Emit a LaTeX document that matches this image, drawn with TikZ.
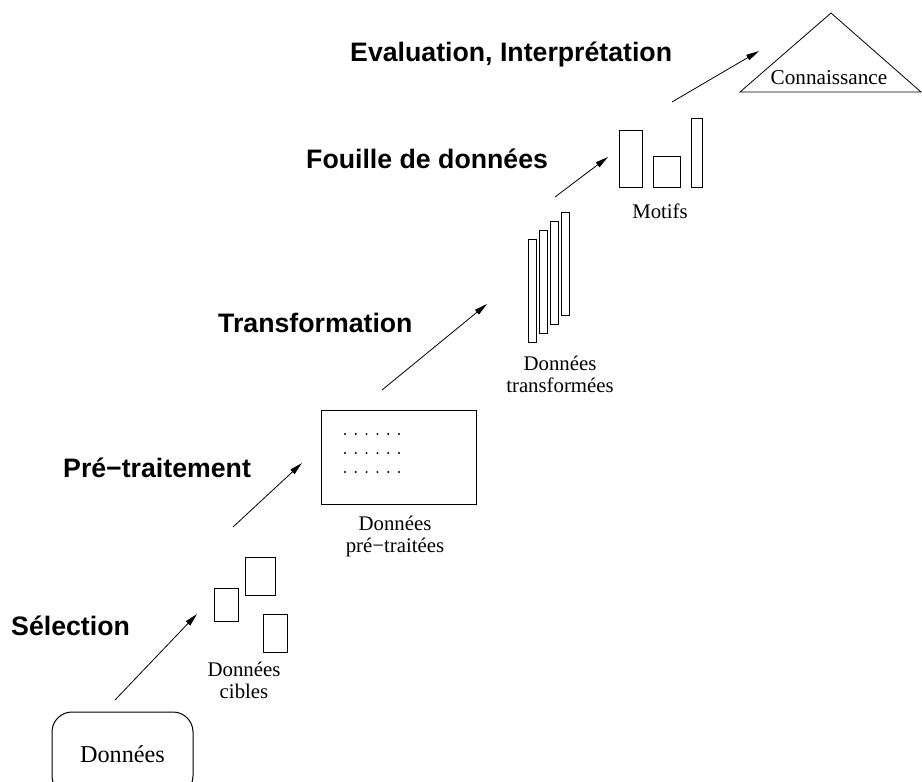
\documentclass[tikz,border=0pt]{standalone}
\usepackage{fontspec}
\setmainfont{Liberation Serif}
\newfontfamily\stagefont{Liberation Sans}
\usepackage{tikz}
\usetikzlibrary{arrows.meta,positioning}
\tikzstyle{arrow} = [line width=0.8pt,-{Triangle[length=13pt,width=6pt]}]
\tikzstyle{stage} = [font=\stagefont\bfseries\fontsize{26.7}{30}\selectfont, inner sep=0pt, text height=19pt, text depth=0pt, anchor=west]
\tikzstyle{datalabel} = [font=\fontsize{20.8}{22}\selectfont, align=center, inner sep=0pt]
\tikzstyle{sheet} = [rectangle, draw, line width=1pt, inner sep=0pt]

\begin{document}
\begin{tikzpicture}[x=1pt, y=-1pt]
\useasboundingbox (0,0) rectangle (922,782);

% Raw data
\node (donnees) [sheet, rounded corners=20pt, minimum width=141pt, minimum height=84pt, font=\fontsize{24.2}{26}\selectfont] at (122.5,754) {Données};

% Target data
\node (cible1) [sheet, minimum width=24pt, minimum height=33pt] at (226,604.5) {};
\node (cible2) [sheet, minimum width=30pt, minimum height=38pt] at (260,576) {};
\node (cible3) [sheet, minimum width=24pt, minimum height=38pt] at (275,633) {};
\node (ciblelabel) [datalabel] at (244,680) {Données\\cibles};

% Pre-processed data
\node (pretraitees) [sheet, minimum width=155pt, minimum height=94pt] at (398.5,457) {};
\foreach \row in {0,1,2}
  \foreach \col in {0,...,5}
    \fill (345+\col*10.8, 434+\row*19) circle (1.1pt);
\node (pretlabel) [datalabel] at (395,536) {Données\\pré−traitées};

% Transformed data
\foreach \i in {0,...,3}
  \node (bar\i) [sheet, minimum width=8pt, minimum height=103pt] at (532+\i*11.3, 290.5-\i*8.7) {};
\node (transflabel) [datalabel] at (560,374) {Données\\transformées};

% Patterns
\node (motif1) [sheet, minimum width=23pt, minimum height=57pt] at (630.5,158.5) {};
\node (motif2) [sheet, minimum width=27pt, minimum height=31pt] at (666.5,171.5) {};
\node (motif3) [sheet, minimum width=11pt, minimum height=69pt] at (696.5,152.5) {};
\node (motiflabel) [datalabel] at (660,211) {Motifs};

% Knowledge
\draw[line width=0.8pt] (740,92) -- (831,13) -- (921,92) -- cycle;
\node (connaissance) [font=\fontsize{21.2}{24}\selectfont] at (829,78) {Connaissance};

% Stages
\node (selection) [stage] at (11,626) {Sélection};
\node (pretraitement) [stage] at (63,468) {Pré−traitement};
\node (transformation) [stage] at (218,323) {Transformation};
\node (fouille) [stage] at (306,159) {Fouille de données};
\node (evaluation) [stage] at (350,52) {Evaluation, Interprétation};

% Arrows
\coordinate (sel-from) at (115,700);
\coordinate (sel-to) at (197,614);
\coordinate (pre-from) at (233,527);
\coordinate (pre-to) at (302,463);
\coordinate (tra-from) at (382,390);
\coordinate (tra-to) at (487,304);
\coordinate (fou-from) at (555,197);
\coordinate (fou-to) at (608,157);
\coordinate (eva-from) at (672,102);
\coordinate (eva-to) at (759,51);
\draw[arrow] (sel-from) -- (sel-to);
\draw[arrow] (pre-from) -- (pre-to);
\draw[arrow] (tra-from) -- (tra-to);
\draw[arrow] (fou-from) -- (fou-to);
\draw[arrow] (eva-from) -- (eva-to);
\end{tikzpicture}
\end{document}
